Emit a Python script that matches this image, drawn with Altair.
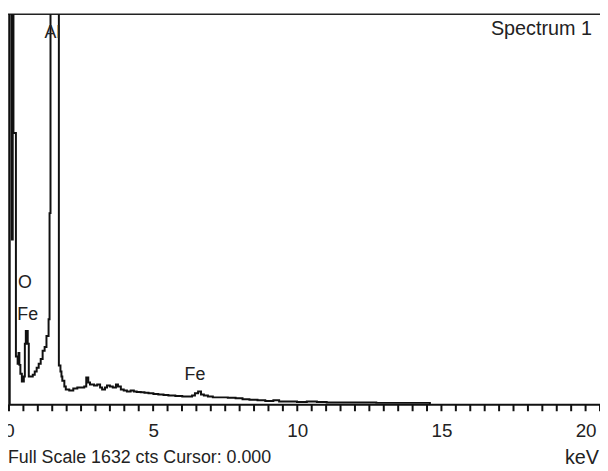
import altair as alt
import pandas as pd

# Spectrum (energy in keV, counts)
kev = [0.0, 0.0, 0.10, 0.13, 0.155, 0.24, 0.30, 0.33, 0.36, 0.395, 0.446, 0.515, 0.55,
       0.584, 0.65, 0.687, 0.755, 0.824,
       0.893, 0.96, 1.03, 1.10, 1.167, 1.236, 1.30, 1.373, 1.407, 1.44, 1.73, 1.785,
       1.82, 1.85, 1.92, 1.97, 2.09, 2.23, 2.37, 2.51, 2.61, 2.68, 2.75, 2.81, 2.95,
       3.06, 3.16, 3.23, 3.33, 3.40, 3.50, 3.60, 3.71, 3.78, 3.88, 3.98, 4.09, 4.22,
       4.33, 4.43, 4.57, 4.70, 4.84, 5.01, 5.18, 5.36, 5.53, 5.77, 6.01, 6.21, 6.35,
       6.45, 6.56, 6.66, 6.76, 6.90, 7.07, 7.31, 7.59, 7.86, 8.10, 8.34, 8.62, 8.89,
       9.17, 9.37, 9.65, 9.99, 10.33, 10.68, 11.02, 11.53, 12.05, 12.74, 13.42, 14.11,
       14.56, 14.6]
counts = [0, 3000, 690, 3000, 1135, 200, 170, 215, 165, 128, 95, 116, 253,
          307, 253, 116, 116, 124,
          137, 153, 170, 190, 224, 240, 286, 356, 800, 5000, 162, 137,
          116, 99, 75, 62, 58, 66, 70, 70, 75, 112, 91, 83, 79,
          83, 70, 62, 70, 79, 75, 70, 83, 75, 62, 58, 54, 58,
          54, 52, 50, 48, 46, 43, 41, 39, 37, 35, 33, 33, 37,
          46, 54, 41, 37, 33, 29, 29, 27, 25, 21, 19, 17, 14,
          17, 12, 12, 10, 12, 10, 8, 8, 8, 6, 6, 6,
          6, 0]

# Peak labels
label_text = ["Al", "O", "Fe", "Fe"]
label_kev = [1.51, 0.55, 0.65, 6.45]
label_cts = [1553, 509, 373, 124]

full_scale = 1632
tick_values = [i * 0.5 for i in range(42)]
label_values = [0, 5, 10, 15, 20]

spec = pd.DataFrame({"keV": kev, "cts": counts, "i": list(range(len(kev)))})
labels = pd.DataFrame({"t": label_text, "keV": label_kev, "cts": label_cts})
ticks = pd.DataFrame({"keV": tick_values})
one = pd.DataFrame({"d": [0]})

W, H = 597, 394
FONT = "Liberation Sans"
TXT = "#222222"
INK = "#111111"

xscale = alt.Scale(domain=[0, 20.5], nice=False, zero=False, padding=0)
yscale = alt.Scale(domain=[0, full_scale], nice=False)

xaxis = alt.Axis(values=label_values, ticks=False, domainWidth=2, domainColor=INK,
                 labelFontSize=19, labelFont=FONT, labelColor=TXT,
                 labelPadding=18, labelFlush=False, labelOverlap=False, grid=False,
                 title=None, format="d")
yaxis = alt.Axis(labels=False, ticks=False, grid=False, title=None, domainWidth=2.5,
                 domainColor=INK)

line = alt.Chart(spec).mark_line(interpolate="step-after", clip=True, color=INK,
                                 strokeWidth=2).encode(
    x=alt.X("keV:Q", scale=xscale, axis=xaxis),
    y=alt.Y("cts:Q", scale=yscale, axis=yaxis),
    order="i:Q",
)

# minor ticks every 0.5 keV below the axis line, drawn as small bars
tick_marks = alt.Chart(ticks).mark_bar(color=INK, width=2, clip=False).encode(
    x=alt.X("keV:Q", scale=xscale, axis=xaxis),
    y=alt.value(H),
    y2=alt.value(H + 7),
)

peak_labels = alt.Chart(labels).mark_text(font=FONT, fontSize=18, color=TXT,
                                          align="center", baseline="middle").encode(
    x=alt.X("keV:Q", scale=xscale, axis=xaxis),
    y=alt.Y("cts:Q", scale=yscale, axis=yaxis),
    text="t:N",
)

top_rule = alt.Chart(one).mark_rule(color="#222222", strokeWidth=1.5).encode(
    x=alt.value(-1), x2=alt.value(W + 5), y=alt.value(0))

spectrum_title = alt.Chart(one).mark_text(font=FONT, fontSize=20, color=TXT,
                                          align="right", baseline="middle").encode(
    x=alt.value(589), y=alt.value(15), text=alt.value("Spectrum 1"))

footer = alt.Chart(one).mark_text(font=FONT, fontSize=18, color=TXT,
                                  align="left", baseline="middle").encode(
    x=alt.value(-1), y=alt.value(448),
    text=alt.value(f"Full Scale {full_scale} cts Cursor: 0.000"))

unit = alt.Chart(one).mark_text(font=FONT, fontSize=20, color=TXT,
                                align="right", baseline="middle").encode(
    x=alt.value(W - 1), y=alt.value(448), text=alt.value("keV"))

chart = alt.layer(top_rule, line, tick_marks, peak_labels, spectrum_title, footer,
                  unit).properties(
    width=W, height=H,
    autosize=alt.AutoSizeParams(type="none"),
    padding={"left": 1, "top": 4, "right": 0, "bottom": 62},
    background="white",
).configure_view(stroke=None)

chart.save("out.html", embed_options={"renderer": "svg", "actions": False})
